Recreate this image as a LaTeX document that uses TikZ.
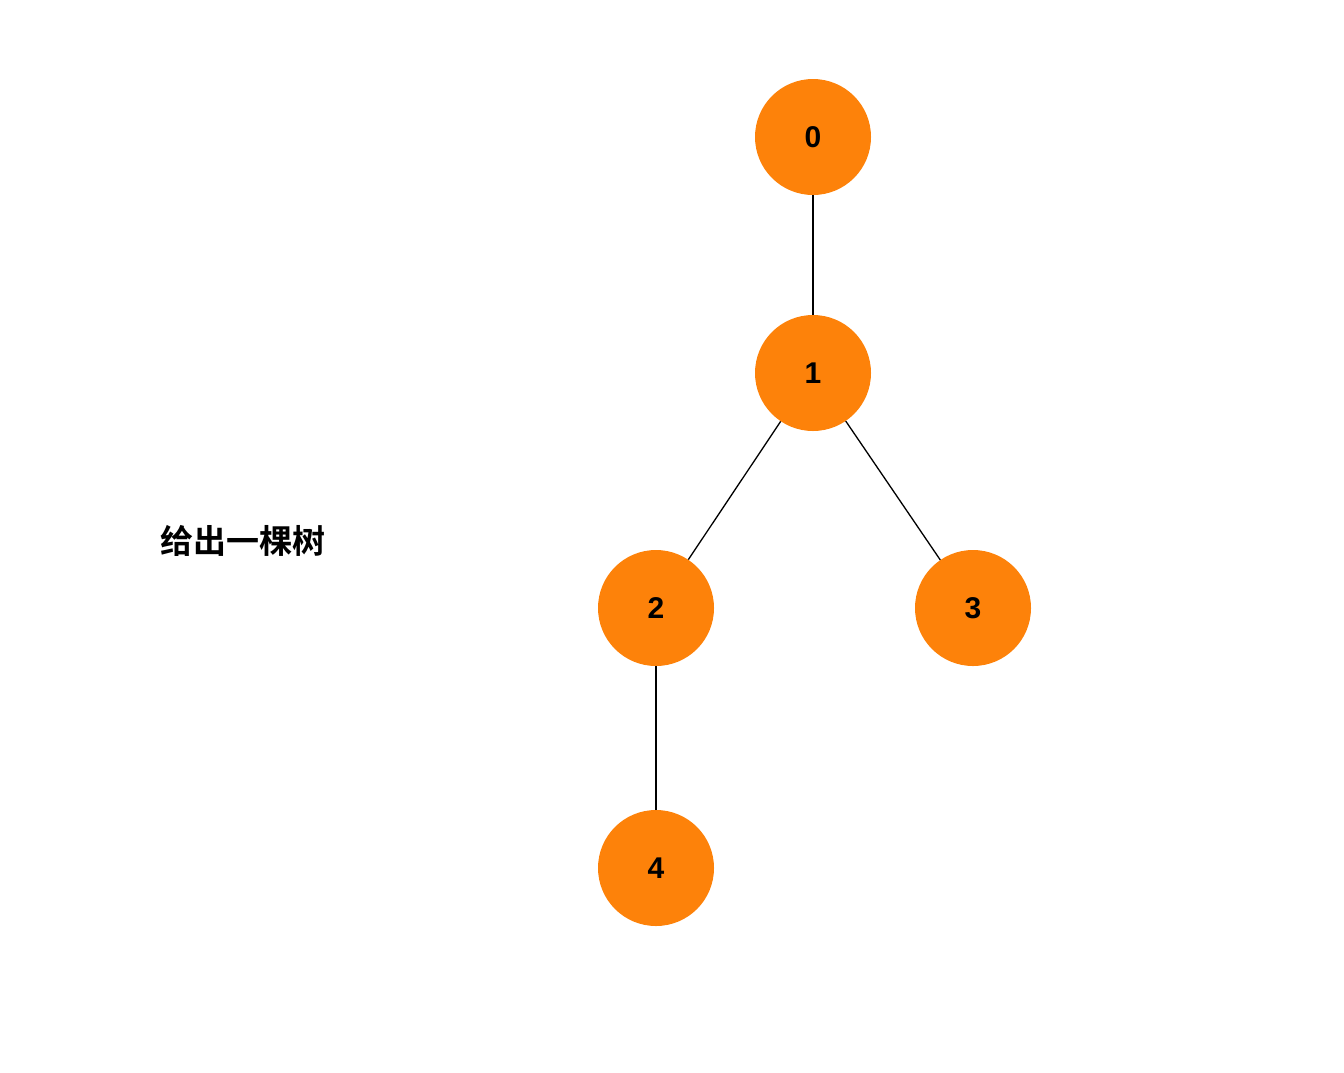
\documentclass[tikz,border=0pt]{standalone}
\usepackage{fontspec}
\setmainfont{Liberation Sans}
\newfontfamily\cjk{Noto Sans CJK SC Bold}
\begin{document}
\begin{tikzpicture}[x=1pt,y=-1pt,
  vert/.style={circle,fill={rgb,255:red,253;green,130;blue,10},minimum size=116pt,inner sep=0pt,font=\fontsize{30}{30}\selectfont\bfseries},
  edge/.style={draw=black,line width=1.3pt}]
\useasboundingbox (0,0) rectangle (1344,1072);
\node[vert] (n0) at (813,137) {0};
\node[vert] (n1) at (813,373) {1};
\node[vert] (n2) at (656,608) {2};
\node[vert] (n3) at (973,608) {3};
\node[vert] (n4) at (656,868) {4};
\node (t) at (243,541) {\cjk\fontsize{33}{33}\selectfont 给出一棵树};
\draw[edge] (n0) -- (n1);
\draw[edge] (n1) -- (n2);
\draw[edge] (n1) -- (n3);
\draw[edge] (n2) -- (n4);
\end{tikzpicture}
\end{document}
